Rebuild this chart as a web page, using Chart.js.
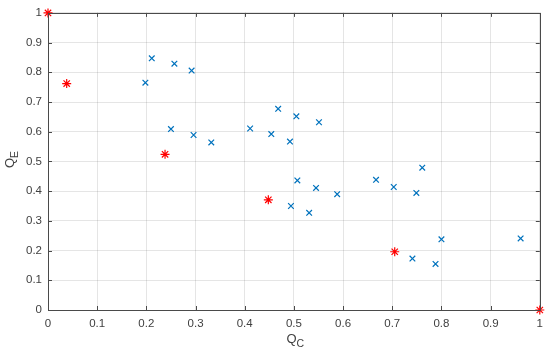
<!DOCTYPE html>
<html lang="en">
<head>
    <meta charset="UTF-8">
    <title>Q_C vs Q_E</title>
    <script src="https://cdn.jsdelivr.net/npm/chart.js"></script>
    <style>
        * { margin: 0; padding: 0; box-sizing: border-box; }
        body { background: #ffffff; width: 550px; height: 355px; overflow: hidden; }
        .chart-box { position: relative; width: 550px; height: 355px; }
    </style>
</head>
<body>
    <div class="chart-box">
        <canvas id="scatterChart"></canvas>
    </div>

    <script>
        // blue 'x' markers
        const crossQC = [0.198, 0.211, 0.257, 0.292, 0.250, 0.296, 0.332, 0.411, 0.454, 0.468, 0.505, 0.551, 0.492,
                         0.761, 0.507, 0.667, 0.703, 0.749, 0.545, 0.588, 0.494, 0.531, 0.741, 0.788, 0.800, 0.961];
        const crossQE = [0.765, 0.847, 0.829, 0.806, 0.609, 0.589, 0.564, 0.611, 0.592, 0.677, 0.652, 0.632, 0.567,
                         0.479, 0.436, 0.438, 0.414, 0.394, 0.411, 0.390, 0.350, 0.327, 0.173, 0.155, 0.238, 0.241];
        // red '*' markers
        const starQC = [0.0, 0.038, 0.238, 0.448, 0.705, 1.0];
        const starQE = [1.0, 0.762, 0.524, 0.371, 0.196, 0.0];
        const tickValues = [0, 0.1, 0.2, 0.3, 0.4, 0.5, 0.6, 0.7, 0.8, 0.9, 1];

        const axisColor = '#4a4a4a';
        const labelColor = '#404040';
        const fontFamily = "'Liberation Sans', Arial, sans-serif";

        const toPoints = (xs, ys) => xs.map((x, i) => ({ x: x, y: ys[i] }));

        // box with inward ticks plus subscripted axis titles
        const matlabAxes = {
            id: 'matlabAxes',
            afterDraw(chart) {
                const { ctx, chartArea: a, scales } = chart;
                const len = 4;
                ctx.save();
                ctx.strokeStyle = axisColor;
                ctx.lineWidth = 1;
                ctx.beginPath();
                tickValues.forEach(v => {
                    const px = Math.round(scales.x.getPixelForValue(v)) + 0.5;
                    ctx.moveTo(px, a.bottom); ctx.lineTo(px, a.bottom - len);
                    ctx.moveTo(px, a.top); ctx.lineTo(px, a.top + len);
                    const py = Math.round(scales.y.getPixelForValue(v)) + 0.5;
                    ctx.moveTo(a.left, py); ctx.lineTo(a.left + len, py);
                    ctx.moveTo(a.right, py); ctx.lineTo(a.right - len, py);
                });
                ctx.stroke();
                ctx.strokeRect(Math.round(a.left) + 0.5, Math.round(a.top) + 0.5,
                               Math.round(a.right - a.left), Math.round(a.bottom - a.top));

                ctx.fillStyle = labelColor;
                ctx.textBaseline = 'alphabetic';
                // x title Q_C
                ctx.font = '13px ' + fontFamily;
                const qw = ctx.measureText('Q').width;
                ctx.fillText('Q', 286.5, 343);
                ctx.font = '10.5px ' + fontFamily;
                ctx.fillText('C', 286.5 + qw, 347);
                // y title Q_E, rotated
                ctx.translate(14, 168);
                ctx.rotate(-Math.PI / 2);
                ctx.font = '13px ' + fontFamily;
                ctx.fillText('Q', 0, 0);
                ctx.font = '10.5px ' + fontFamily;
                ctx.fillText('E', qw, 4);
                ctx.restore();
            }
        };

        const initChart = () => {
            const ctx = document.getElementById('scatterChart').getContext('2d');
            new Chart(ctx, {
                type: 'scatter',
                data: {
                    datasets: [{
                        label: 'cross',
                        data: toPoints(crossQC, crossQE),
                        pointStyle: 'crossRot',
                        pointRadius: 4,
                        pointHoverRadius: 4,
                        borderColor: '#0072BD',
                        backgroundColor: '#0072BD',
                        pointBorderWidth: 1.2,
                        clip: 10
                    }, {
                        label: 'star',
                        data: toPoints(starQC, starQE),
                        pointStyle: 'star',
                        pointRadius: 4.5,
                        pointHoverRadius: 4.5,
                        borderColor: '#FF0000',
                        backgroundColor: '#FF0000',
                        pointBorderWidth: 1.2,
                        clip: 10
                    }]
                },
                options: {
                    responsive: true,
                    maintainAspectRatio: false,
                    animation: false,
                    layout: { padding: { left: 0, right: 8, top: 11, bottom: 0 } },
                    plugins: {
                        legend: { display: false },
                        tooltip: { enabled: false }
                    },
                    scales: {
                        x: {
                            type: 'linear',
                            min: 0,
                            max: 1,
                            afterFit: s => { s.height = 45; },
                            afterBuildTicks: s => { s.ticks = tickValues.map(v => ({ value: v })); },
                            grid: { color: 'rgba(0,0,0,0.1)', drawTicks: false },
                            border: { display: false },
                            ticks: {
                                padding: 7,
                                color: labelColor,
                                font: { family: fontFamily, size: 11.5 },
                                callback: v => String(Number(v.toFixed(1)))
                            }
                        },
                        y: {
                            type: 'linear',
                            min: 0,
                            max: 1,
                            afterFit: s => { s.width = 48; },
                            afterBuildTicks: s => { s.ticks = tickValues.map(v => ({ value: v })); },
                            grid: { color: 'rgba(0,0,0,0.1)', drawTicks: false },
                            border: { display: false },
                            ticks: {
                                padding: 6,
                                color: labelColor,
                                font: { family: fontFamily, size: 11.5 },
                                callback: v => String(Number(v.toFixed(1)))
                            }
                        }
                    }
                },
                plugins: [matlabAxes]
            });
        };

        document.addEventListener('DOMContentLoaded', initChart);
    </script>
</body>
</html>
